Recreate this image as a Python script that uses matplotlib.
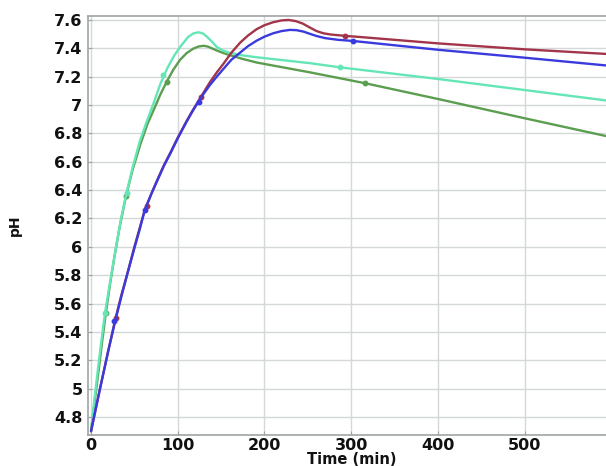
import matplotlib
matplotlib.use("Agg")
import matplotlib.pyplot as plt

# ---- data ----
red_t  = [0, 10, 20, 28, 35, 41, 50, 56, 62, 70, 77, 84, 92, 100, 110, 117, 124, 130, 137, 145, 152.6, 162, 172, 181, 191, 200, 210, 220, 228, 236, 244, 252, 260, 268, 277, 293, 310, 400, 500, 610]
red_ph = [4.70, 4.99, 5.27, 5.49, 5.66, 5.79, 6.00, 6.13, 6.26, 6.38, 6.48, 6.575, 6.67, 6.77, 6.885, 6.96, 7.03, 7.09, 7.16, 7.23, 7.29, 7.37, 7.44, 7.49, 7.535, 7.563, 7.584, 7.597, 7.60, 7.592, 7.575, 7.548, 7.522, 7.506, 7.497, 7.488, 7.48, 7.435, 7.393, 7.355]

blue_t  = [0, 10, 20, 28, 35, 41, 50, 56, 62, 70, 77, 84, 92, 100, 110, 117, 124, 130, 137, 145, 152.6, 162, 172, 181, 191, 200, 210, 220, 229.5, 237, 245, 252.6, 260, 270, 285, 302, 400, 500, 610]
blue_ph = [4.70, 4.99, 5.27, 5.48, 5.65, 5.79, 5.99, 6.12, 6.26, 6.38, 6.475, 6.57, 6.665, 6.765, 6.88, 6.955, 7.025, 7.08, 7.14, 7.20, 7.254, 7.32, 7.37, 7.415, 7.454, 7.482, 7.506, 7.522, 7.53, 7.528, 7.518, 7.502, 7.487, 7.472, 7.46, 7.452, 7.39, 7.334, 7.27]

cyan_t  = [0, 4, 8, 12, 16, 20, 25, 30, 35, 41, 48, 56, 64, 72, 80, 88, 96, 104, 112, 118, 124, 129, 134, 139, 145, 152, 160, 175, 191, 253, 287, 400, 500, 610]
cyan_ph = [4.70, 4.93, 5.14, 5.34, 5.53, 5.68, 5.86, 6.04, 6.21, 6.38, 6.56, 6.74, 6.88, 7.01, 7.15, 7.26, 7.35, 7.42, 7.48, 7.505, 7.513, 7.505, 7.48, 7.45, 7.41, 7.385, 7.368, 7.35, 7.337, 7.295, 7.266, 7.184, 7.106, 7.02]

green_t  = [0, 4, 9, 13, 17, 22, 27, 33, 40.4, 48, 57, 65, 74, 80, 87.3, 95, 102.6, 110, 118, 124, 130, 135, 140, 145, 152, 160, 175, 191, 253, 316, 400, 500, 610]
green_ph = [4.70, 4.90, 5.14, 5.34, 5.53, 5.74, 5.93, 6.14, 6.36, 6.545, 6.725, 6.865, 6.99, 7.075, 7.165, 7.25, 7.318, 7.365, 7.398, 7.413, 7.418, 7.412, 7.398, 7.385, 7.368, 7.352, 7.325, 7.30, 7.23, 7.154, 7.043, 6.907, 6.76]

red_mark_t,   red_mark_ph   = [29, 64, 127, 293], [5.50, 6.29, 7.06, 7.488]
blue_mark_t,  blue_mark_ph  = [27, 62, 124, 302], [5.48, 6.26, 7.02, 7.452]
cyan_mark_t,  cyan_mark_ph  = [16, 41, 83.4, 287], [5.53, 6.38, 7.21, 7.266]
green_mark_t, green_mark_ph = [17, 40.4, 87.3, 316], [5.53, 6.36, 7.165, 7.154]

x_ticks = [0, 100, 200, 300, 400, 500]
y_ticks = [4.8, 5.0, 5.2, 5.4, 5.6, 5.8, 6.0, 6.2, 6.4, 6.6, 6.8, 7.0, 7.2, 7.4, 7.6]
y_tick_labels = ["4.8", "5", "5.2", "5.4", "5.6", "5.8", "6", "6.2", "6.4", "6.6", "6.8", "7", "7.2", "7.4", "7.6"]

# ---- styling ----
c_red, c_blue, c_cyan, c_green = "#a2354a", "#3a3ade", "#64e6b6", "#5c9e50"

fig = plt.figure(figsize=(6.06, 4.66), dpi=100)
ax = fig.add_axes([88/606, 31/466, (616-88)/606, (435-16)/466])

for t, ph, mt, mp, c in [
    (green_t, green_ph, green_mark_t, green_mark_ph, c_green),
    (cyan_t, cyan_ph, cyan_mark_t, cyan_mark_ph, c_cyan),
    (red_t, red_ph, red_mark_t, red_mark_ph, c_red),
    (blue_t, blue_ph, blue_mark_t, blue_mark_ph, c_blue),
]:
    ax.plot(t, ph, color=c, lw=1.7, solid_joinstyle="round", solid_capstyle="round")
    ax.plot(mt, mp, ls="none", marker="o", ms=3.2, color=c)

ax.set_xlim(-3.5, 605.5)
ax.set_ylim(4.673, 7.628)
ax.set_xticks(x_ticks)
ax.set_yticks(y_ticks)
ax.set_yticklabels(y_tick_labels)
ax.grid(True, color="#d4d8d8", lw=1.0)
ax.set_axisbelow(True)
for s in ax.spines.values():
    s.set_color("#a0a4a4")
    s.set_linewidth(1.2)
ax.tick_params(axis="both", which="both", length=3, color="#a0a4a4", direction="in",
               labelsize=11.5, pad=4)
ax.tick_params(axis="x", pad=2.5)
for lab in ax.get_xticklabels() + ax.get_yticklabels():
    lab.set_fontweight("bold")
    lab.set_color("#111111")

ax.set_xlabel("Time (min)", fontsize=10.5, fontweight="bold", color="#111111")
ax.xaxis.set_label_coords(0.5, -0.041)
ax.set_ylabel("pH", fontsize=10, fontweight="bold", color="#111111")
ax.yaxis.set_label_coords(-0.125, 0.5)

fig.savefig("out.png", dpi=100)
